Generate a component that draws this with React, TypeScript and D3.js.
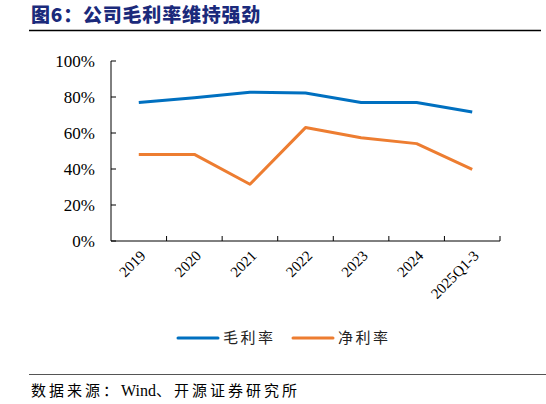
import * as d3 from 'd3';
import React from 'react';

const categories = ['2019', '2020', '2021', '2022', '2023', '2024', '2025Q1-3'];
const grossMargin = [77.0, 79.6, 82.7, 82.2, 77.0, 76.9, 71.7];
const netMargin = [48.0, 48.1, 31.5, 63.0, 57.4, 54.1, 39.8];
const yTicks = [0, 20, 40, 60, 80, 100];
const seriesNames = ['毛利率', '净利率'];
const colors = ['#0070C0', '#ED7D31'];

export default function App() {
  const width = 546;
  const height = 404;
  const plot = { left: 111, right: 500, top: 61, bottom: 241 };

  const x = d3.scaleBand().domain(categories).range([plot.left, plot.right]);
  const y = d3.scaleLinear().domain([0, 100]).range([plot.bottom, plot.top]);

  const line = d3
    .line<number>()
    .x((_, i) => (x(categories[i]) ?? 0) + x.bandwidth() / 2)
    .y(d => y(d));

  const series = [grossMargin, netMargin];
  const cjk = '"Noto Sans CJK SC", sans-serif';
  const serif = '"Liberation Serif", "DejaVu Serif", serif';

  return (
    <svg
      width={width}
      height={height}
      style={{ position: 'absolute', left: 0, top: 0, background: '#fff' }}
    >
      {/* title */}
      <text
        x={31}
        y={22}
        style={{ fontFamily: cjk, fontWeight: 900, fontSize: 19, letterSpacing: 0.8 }}
        fill="#1B2A7B"
      >
        图6：公司毛利率维持强劲
      </text>
      <line x1={29} x2={541} y1={30.5} y2={30.5} stroke="#000" strokeWidth={1.3} />

      {/* y axis */}
      <line x1={plot.left} x2={plot.left} y1={plot.top} y2={plot.bottom} stroke="#000" />
      {yTicks.map(t => (
        <g key={t}>
          <line x1={plot.left} x2={plot.left + 5} y1={y(t)} y2={y(t)} stroke="#000" />
          <text
            x={plot.left - 16}
            y={y(t)}
            dy="0.35em"
            textAnchor="end"
            style={{ fontFamily: serif, fontSize: 17 }}
            fill="#000"
          >
            {t}%
          </text>
        </g>
      ))}

      {/* x axis */}
      <line x1={plot.left} x2={plot.right} y1={plot.bottom} y2={plot.bottom} stroke="#000" />
      {categories.map(c => {
        const xr = (x(c) ?? 0) + x.bandwidth();
        const xc = (x(c) ?? 0) + x.bandwidth() / 2;
        return (
          <g key={c}>
            <line x1={xr} x2={xr} y1={plot.bottom - 5} y2={plot.bottom} stroke="#000" />
            <text
              transform={`translate(${xc + 4},${plot.bottom + 12}) rotate(-45)`}
              textAnchor="end"
              dy="0.35em"
              style={{ fontFamily: serif, fontSize: 15 }}
              fill="#000"
            >
              {c}
            </text>
          </g>
        );
      })}

      {/* lines */}
      {series.map((s, i) => (
        <path
          key={i}
          d={line(s) ?? ''}
          fill="none"
          stroke={colors[i]}
          strokeWidth={3}
          strokeLinejoin="round"
        />
      ))}

      {/* legend */}
      {seriesNames.map((n, i) => {
        const lx = 178 + i * 115;
        return (
          <g key={n}>
            <line x1={lx} x2={lx + 40} y1={338} y2={338} stroke={colors[i]} strokeWidth={3} strokeLinecap="round" />
            <text
              x={lx + 45}
              y={338}
              dy="0.35em"
              style={{ fontFamily: cjk, fontSize: 15, letterSpacing: 2.5 }}
              fill="#222"
            >
              {n}
            </text>
          </g>
        );
      })}

      {/* source */}
      <line x1={29} x2={546} y1={374.5} y2={374.5} stroke="#555" strokeWidth={1} />
      <text x={31} y={396} style={{ fontFamily: cjk, fontSize: 15, letterSpacing: 3 }} fill="#000">
        数据来源：<tspan style={{ fontFamily: serif, fontSize: 16, letterSpacing: 0 }}>Wind</tspan>
        、开源证券研究所
      </text>
    </svg>
  );
}
